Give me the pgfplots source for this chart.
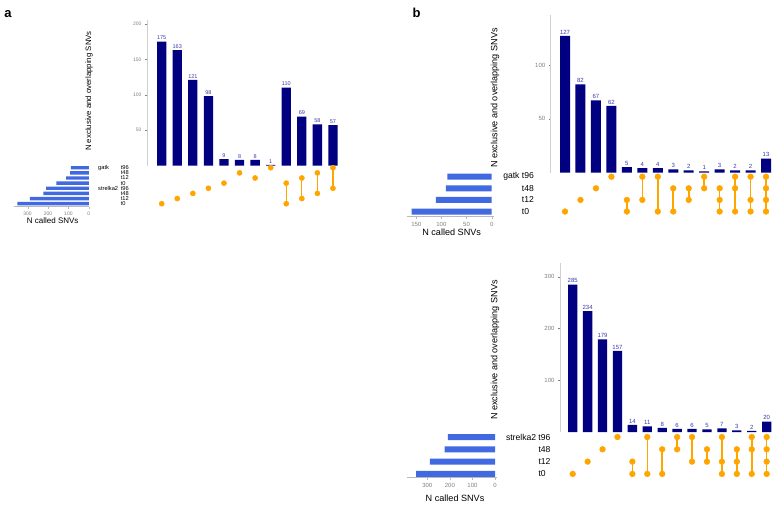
\documentclass[border=0pt]{standalone}
\usepackage{fontspec}
\setmainfont{Liberation Sans}
\usepackage{pgfplots}
\pgfplotsset{compat=1.18}

\definecolor{barnavy}{HTML}{000080}
\definecolor{setblue}{HTML}{4169E1}
\definecolor{dotorange}{HTML}{FFA500}
\definecolor{valblue}{HTML}{3A3AAA}
\definecolor{tickgrey}{HTML}{7F7F7F}
\definecolor{axgrey}{HTML}{D0D0D0}

\newcommand{\fs}[1]{\fontsize{#1}{#1}\selectfont}
\newcommand{\G}[1]{\makebox[22.7pt][l]{#1}}

\pgfplotsset{
  base/.style={scale only axis, anchor=south west, clip=false, enlargelimits=false,
    /pgf/number format/assume math mode=true},
  % intersection bars
  inter/.style={base, ybar, bar width=#1, axis x line=none, axis y line*=left,
    y axis line style={draw=axgrey, line width=0.8pt},
    ytick style={draw=tickgrey, line width=0.4pt}, tick align=outside, major tick length=2pt,
    yticklabel style={text=tickgrey},
    nodes near coords, every node near coord/.append style={text=valblue, inner sep=1.5pt}},
  % dot matrix
  mat/.style={base, axis line style={draw=none}, xtick=\empty, major tick length=0pt,
    ymin=0.5, yticklabel style={anchor=west, inner sep=0pt}},
  conn/.style={dotorange, line width=#1},
  conn/.default=1.6pt,
  % set sizes
  sets/.style={base, xbar, bar width=#1, x dir=reverse, axis y line=none, axis x line*=bottom,
    x axis line style={draw=gray!55, line width=0.5pt}, xtick style={draw=gray!55},
    tick align=outside, major tick length=2pt, xticklabel style={text=tickgrey}},
}

\begin{document}
\begin{tikzpicture}
\useasboundingbox (0pt,0pt) rectangle (778pt,507pt);

\node[font=\fs{13}\bfseries] at (8pt,493pt) {a};
\node[font=\fs{13}\bfseries] at (416.7pt,494pt) {b};

% ---------------- panel a ----------------
\begin{axis}[inter=9.3pt, at={(147pt,341.5pt)}, width=195.3pt, height=145.7pt,
  xmin=0.056, xmax=12.6, ymin=0, ymax=206, ytick={50,100,150,200},
  yticklabel style={font=\fs{5}},
  every node near coord/.append style={font=\fs{5.5}},
  ylabel={N exclusive and overlapping SNVs},
  ylabel style={font=\fs{7.8}, at={(axis description cs:-0.297,0.511)}, anchor=center}]
\addplot[fill=barnavy, draw=none] coordinates {
(1,175) (2,163) (3,121) (4,98) (5,9) (6,8) (7,8) (8,1) (9,110) (10,69) (11,58) (12,57)};
\end{axis}

\begin{axis}[mat, at={(147pt,300.73pt)}, width=195.3pt, height=41.12pt,
  xmin=0.056, xmax=12.6, ymax=8.5, ytick={1,...,8},
  yticklabels={\G{}t0,\G{}t12,\G{}t48,\G{strelka2}t96,\G{}t0,\G{}t12,\G{}t48,\G{gatk}t96},
  yticklabel style={font=\fs{5.7}, xshift=-49pt}]
\addplot[conn=1.3pt] coordinates {(9,5) (9,1)};
\addplot[conn=1.3pt] coordinates {(10,6) (10,2)};
\addplot[conn=1.3pt] coordinates {(11,7) (11,3)};
\addplot[conn=1.3pt] coordinates {(12,8) (12,4)};
\addplot[only marks, mark=*, mark size=2.6pt, dotorange] coordinates {
(1,1) (2,2) (3,3) (4,4) (5,5) (6,7) (7,6) (8,8)
(9,5) (9,1) (10,6) (10,2) (11,7) (11,3) (12,8) (12,4)};
\end{axis}

\begin{axis}[sets=3.4pt, at={(14.3pt,300.3pt)}, width=75pt, height=41.55pt,
  xmin=-2.45, xmax=365.2, ymin=0.416, ymax=8.5,
  xtick={0,100,200,300}, xticklabel style={font=\fs{5}},
  xlabel={N called SNVs},
  xlabel style={font=\fs{8}, at={(axis description cs:0.512,-0.337)}, anchor=center}]
\addplot[fill=setblue, draw=none] coordinates {
(350,1) (289,2) (223,3) (209,4) (159,5) (111,6) (91,7) (88,8)};
\end{axis}

% ---------------- panel b, gatk ----------------
\begin{axis}[inter=10pt, at={(550.7pt,334.5pt)}, width=224.6pt, height=157.5pt,
  xmin=0.075, xmax=14.6, ymin=0, ymax=146.5, ytick={50,100},
  yticklabel style={font=\fs{6}},
  every node near coord/.append style={font=\fs{6}},
  ylabel={N exclusive and overlapping SNVs},
  ylabel style={font=\fs{9.1}, at={(axis description cs:-0.248,0.473)}, anchor=center}]
\addplot[fill=barnavy, draw=none] coordinates {
(1,127) (2,82) (3,67) (4,62) (5,5) (6,4) (7,4) (8,3) (9,2) (10,1) (11,3) (12,2) (13,2) (14,13)};
\end{axis}

\begin{axis}[mat, at={(550.7pt,289.7pt)}, width=224.6pt, height=46.4pt,
  xmin=0.075, xmax=14.6, ymax=4.5, ytick={1,...,4},
  yticklabels={t0,t12,t48,\llap{gatk\ }t96},
  yticklabel style={font=\fs{8.6}, xshift=-29pt}]
\addplot[conn] coordinates {(5,2) (5,1)};
\addplot[conn] coordinates {(6,4) (6,2)};
\addplot[conn] coordinates {(7,4) (7,1)};
\addplot[conn] coordinates {(8,3) (8,1)};
\addplot[conn] coordinates {(9,3) (9,2)};
\addplot[conn] coordinates {(10,4) (10,3)};
\addplot[conn] coordinates {(11,3) (11,1)};
\addplot[conn] coordinates {(12,4) (12,1)};
\addplot[conn] coordinates {(13,4) (13,1)};
\addplot[conn] coordinates {(14,4) (14,1)};
\addplot[only marks, mark=*, mark size=2.9pt, dotorange] coordinates {
(1,1) (2,2) (3,3) (4,4) (5,2) (5,1) (6,4) (6,2) (7,4) (7,1) (8,3) (8,1)
(9,3) (9,2) (10,4) (10,3) (11,3) (11,2) (11,1) (12,4) (12,3) (12,1)
(13,4) (13,2) (13,1) (14,4) (14,3) (14,2) (14,1)};
\end{axis}

\begin{axis}[sets=6pt, at={(407.3pt,290.3pt)}, width=87pt, height=45.8pt,
  xmin=-5.2, xmax=167.8, ymin=0.552, ymax=4.5,
  xtick={0,50,100,150}, xticklabel style={font=\fs{6}},
  xlabel={N called SNVs},
  xlabel style={font=\fs{9.1}, at={(axis description cs:0.51,-0.34)}, anchor=center}]
\addplot[fill=setblue, draw=none] coordinates {(159,1) (111,2) (91,3) (88,4)};
\end{axis}

% ---------------- panel b, strelka2 ----------------
\begin{axis}[inter=9.3pt, at={(560pt,75pt)}, width=215.6pt, height=169pt,
  xmin=0.149, xmax=14.6, ymin=0, ymax=326.9, ytick={100,200,300},
  yticklabel style={font=\fs{6}},
  every node near coord/.append style={font=\fs{6}},
  ylabel={N exclusive and overlapping SNVs},
  ylabel style={font=\fs{9.1}, at={(axis description cs:-0.301,0.485)}, anchor=center}]
\addplot[fill=barnavy, draw=none] coordinates {
(1,285) (2,234) (3,179) (4,157) (5,14) (6,11) (7,8) (8,6) (9,6) (10,5) (11,7) (12,3) (13,2) (14,20)};
\end{axis}

\begin{axis}[mat, at={(560pt,26.95pt)}, width=215.6pt, height=49.2pt,
  xmin=0.149, xmax=14.6, ymax=4.5, ytick={1,...,4},
  yticklabels={t0,t12,t48,\llap{strelka2\ }t96},
  yticklabel style={font=\fs{8.6}, xshift=-21.7pt}]
\addplot[conn] coordinates {(5,2) (5,1)};
\addplot[conn] coordinates {(6,4) (6,1)};
\addplot[conn] coordinates {(7,3) (7,1)};
\addplot[conn] coordinates {(8,4) (8,3)};
\addplot[conn] coordinates {(9,4) (9,2)};
\addplot[conn] coordinates {(10,3) (10,2)};
\addplot[conn] coordinates {(11,4) (11,1)};
\addplot[conn] coordinates {(12,3) (12,1)};
\addplot[conn] coordinates {(13,4) (13,1)};
\addplot[conn] coordinates {(14,4) (14,1)};
\addplot[only marks, mark=*, mark size=2.9pt, dotorange] coordinates {
(1,1) (2,2) (3,3) (4,4) (5,2) (5,1) (6,4) (6,1) (7,3) (7,1) (8,4) (8,3)
(9,4) (9,2) (10,3) (10,2) (11,4) (11,2) (11,1) (12,3) (12,2) (12,1)
(13,4) (13,3) (13,1) (14,4) (14,3) (14,2) (14,1)};
\end{axis}

\begin{axis}[sets=6pt, at={(406.7pt,29.4pt)}, width=90pt, height=46.74pt,
  xmin=-7.5, xmax=391.2, ymin=0.7, ymax=4.5,
  xtick={0,100,200,300}, xticklabel style={font=\fs{6}},
  xlabel={N called SNVs},
  xlabel style={font=\fs{9.1}, at={(axis description cs:0.537,-0.443)}, anchor=center}]
\addplot[fill=setblue, draw=none] coordinates {(350,1) (289,2) (223,3) (209,4)};
\end{axis}
\end{tikzpicture}
\end{document}
